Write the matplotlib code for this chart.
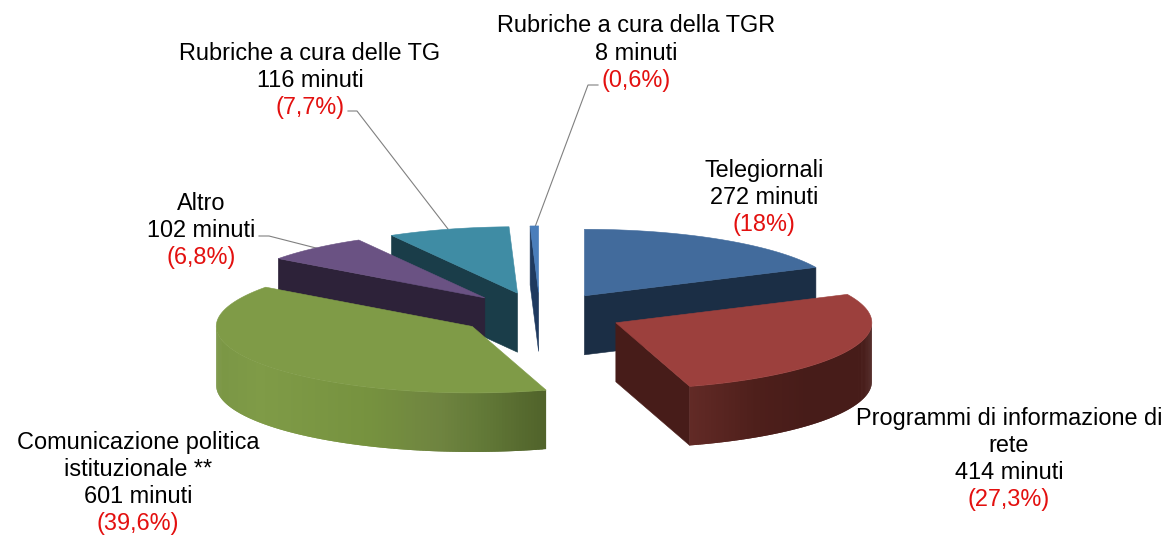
import numpy as np
import matplotlib
matplotlib.use("Agg")
import matplotlib.pyplot as plt
from matplotlib.patches import Polygon
from matplotlib.collections import PolyCollection
from matplotlib.colors import to_rgb

plt.rcParams['font.family'] = ['Liberation Sans', 'DejaVu Sans']

categories = ["Telegiornali", "Programmi di informazione di\nrete", "Comunicazione politica\nistituzionale **",
              "Altro", "Rubriche a cura delle TG", "Rubriche a cura della TGR"]
minutes = [272, 414, 601, 102, 116, 8]
percent_labels = ["(18%)", "(27,3%)", "(39,6%)", "(6,8%)", "(7,7%)", "(0,6%)"]

top_colors = ["#426B9C", "#9C403D", "#7F9B47", "#6A5283", "#3F8CA4", "#4A7EBB"]
side_colors = ["#1B2E45", "#471C19", "#50622A", "#2D2239", "#1A3D49", "#1F3A5F"]
# wall shading stops: (sine of angle, colour)
wall_stops = {
    1: [(0.29, "#622A26"), (0.55, "#4E1F1B"), (0.75, "#471C19"), (1.0, "#471C19")],
    2: [(0.29, "#50622A"), (0.03, "#637A38"), (-0.13, "#6F8440"), (-0.40, "#76923F"),
        (-0.83, "#7F9B47"), (-1.0, "#7A9645")],
}
label_pos = [(764, 170), (1009, 418), (138, 442), (201, 203), (310, 53), (636, 26)]
leaders = {3: [(259, 236), (269, 236), (316, 248)],
           4: [(348, 111), (357, 111), (448, 229)],
           5: [(598, 85), (588, 85), (535, 227)]}

CX, CY, RX, RY, DEPTH, EXPLODE = 540, 314, 256, 66.5, 59, 83
K = RY / RX
LINE = 27.2
FS = 16.9

fig = plt.figure(figsize=(11.67, 5.35), dpi=100)
ax = fig.add_axes([0, 0, 1, 1])
ax.set_xlim(0, 1167)
ax.set_ylim(535, 0)
ax.axis("off")

fracs = np.array(minutes) / sum(minutes)
edges = np.concatenate([[0], np.cumsum(fracs) * 360])


def rim(ax0, ay0, deg):
    t = np.radians(deg)
    return ax0 + RX * np.sin(t), ay0 - RY * np.cos(t)


def draw_slice(i, z):
    a1, a2 = edges[i], edges[i + 1]
    mid = np.radians((a1 + a2) / 2)
    ax0 = CX + EXPLODE * np.sin(mid)
    ay0 = CY - EXPLODE * K * np.cos(mid)
    # cut walls
    for a, vis in ((a1, 180 < a1 < 360), (a2, 0 < a2 < 180)):
        if vis:
            x, y = rim(ax0, ay0, a)
            ax.add_patch(Polygon([(ax0, ay0), (x, y), (x, y + DEPTH), (ax0, ay0 + DEPTH)],
                                 closed=True, fc=side_colors[i], ec=side_colors[i], lw=0.4, zorder=z))
    # outer wall, as overlapping shaded strips painted in order
    lo, hi = max(a1, 90), min(a2, 270)
    if hi > lo:
        th = np.linspace(lo, hi, 160)
        xs, ys = rim(ax0, ay0, th)
        stops = sorted(wall_stops[i], key=lambda s: s[0])
        sv = [s[0] for s in stops]
        rgb = np.array([to_rgb(s[1]) for s in stops])
        polys, cols = [], []
        for j in range(len(th) - 1):
            k = min(j + 3, len(th))
            polys.append(list(zip(xs[j:k], ys[j:k])) + list(zip(xs[j:k][::-1], ys[j:k][::-1] + DEPTH)))
            s = np.sin(np.radians((th[j] + th[j + 1]) / 2))
            cols.append([np.interp(s, sv, rgb[:, c]) for c in range(3)])
        ax.add_collection(PolyCollection(polys, facecolors=cols, edgecolors="none", zorder=z))
    # top face
    th = np.linspace(a1, a2, 120)
    xs, ys = rim(ax0, ay0, th)
    pts = [(ax0, ay0)] + list(zip(xs, ys))
    ax.add_patch(Polygon(pts, closed=True, fc=top_colors[i], ec=top_colors[i], lw=0.4, zorder=z + 0.5))


for z, i in enumerate([4, 5, 0, 3, 2, 1], start=2):
    draw_slice(i, z)

for i, pts in leaders.items():
    ax.plot(*zip(*pts), color="#808080", lw=0.8, zorder=1.5)

for i, (x, y) in enumerate(label_pos):
    lines = categories[i].split("\n") + [f"{minutes[i]} minuti"]
    for n, s in enumerate(lines):
        ax.text(x, y + n * LINE, s, ha="center", va="center", fontsize=FS, color="black", zorder=20)
    ax.text(x, y + len(lines) * LINE, percent_labels[i], ha="center", va="center",
            fontsize=FS, color="#E3100F", zorder=20)

fig.savefig("out.png", dpi=100)
